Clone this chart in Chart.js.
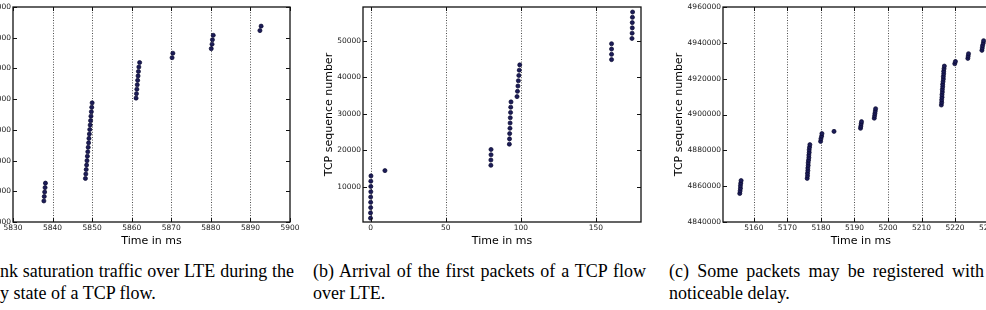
<!DOCTYPE html>
<html><head><meta charset="utf-8">
<script src="https://cdn.jsdelivr.net/npm/chart.js@4.4.0/dist/chart.umd.min.js"></script>
<style>
html,body{margin:0;padding:0;background:#fff;width:986px;height:310px;overflow:hidden}
body{position:relative}
.box{position:absolute;top:0}
.cap{position:absolute;font-family:"Liberation Serif","Times New Roman",serif;font-size:18px;line-height:22px;color:#000;white-space:nowrap}
.cap .j{text-align:justify;text-align-last:justify}
</style></head><body>
<div class="box" style="left:-60px;width:362px;height:250px"><canvas id="ca" width="362" height="250"></canvas></div>
<div class="box" style="left:300px;width:346px;height:250px"><canvas id="cb" width="346" height="250"></canvas></div>
<div class="box" style="left:640px;width:371px;height:250px"><canvas id="cc" width="371" height="250"></canvas></div>

<div class="cap" style="left:0px;top:260px;width:294px">
  <div class="j">nk saturation traffic over LTE during the</div>
  <div>y state of a TCP flow.</div>
</div>
<div class="cap" style="left:313px;top:260px;width:333px">
  <div class="j">(b) Arrival of the first packets of a TCP flow</div>
  <div>over LTE.</div>
</div>
<div class="cap" style="left:669px;top:260px;width:315px">
  <div class="j">(c) Some packets may be registered with</div>
  <div>noticeable delay.</div>
</div>

<script>
// ---------- data ----------
const xTitle = 'Time in ms';
const yTitle = 'TCP sequence number';

// (a) steady state
const aTime = [5837.8,5837.9,5838.0,5838.1,5838.2,
  5848.3,5848.4,5848.5,5848.6,5848.7,5848.8,5848.9,5849.0,5849.1,5849.2,5849.3,5849.4,5849.5,5849.6,5849.7,5849.8,5849.9,5850.0,
  5861.1,5861.2,5861.3,5861.4,5861.5,5861.6,5861.7,5861.8,5862.0,
  5870.2,5870.4,
  5880.1,5880.3,5880.4,5880.6,
  5892.4,5892.7];
const aSeq = [5506860,5508310,5509760,5511200,5512650,
  5514180,5515628,5517076,5518524,5519972,5521420,5522868,5524316,5525764,5527212,5528660,5530108,5531556,5533004,5534452,5535900,5537348,5538796,
  5540330,5541778,5543226,5544674,5546122,5547570,5549018,5550466,5551914,
  5553500,5554950,
  5556440,5557890,5559340,5560790,
  5562320,5563770];
const aXTicks = [5830,5840,5850,5860,5870,5880,5890,5900];
const aYTicks = [5500000,5510000,5520000,5530000,5540000,5550000,5560000,5570000];

// (b) first packets
const bTime = [0.0,0.0,0.1,0.1,0.1,0.2,0.2,0.2,0.3,
  9.6,
  80.1,80.1,80.2,80.2,
  92.4,92.5,92.6,92.8,92.9,93.0,93.2,93.3,93.5,
  97.5,97.8,98.1,98.4,98.7,99.0,99.3,
  160.4,160.4,160.4,160.4,
  174.0,174.1,174.2,174.2,174.3,174.4];
const bSeq = [1448,2896,4344,5792,7240,8688,10136,11584,13032,
  14480,
  15928,17376,18824,20272,
  21720,23168,24616,26064,27512,28960,30408,31856,33304,
  34752,36200,37648,39096,40544,41992,43440,
  44888,46336,47784,49232,
  50680,52128,53576,55024,56472,57920];
const bXTicks = [0,50,100,150];
const bYTicks = [10000,20000,30000,40000,50000];

// (c) delayed packets
const cTime = [5155.8,5155.9,5156.0,5156.0,5156.1,5156.2,
  5175.9,5176.0,5176.0,5176.1,5176.1,5176.2,5176.2,5176.3,5176.4,5176.4,5176.5,5176.5,5176.6,5176.7,
  5179.9,5180.0,5180.2,5180.3,
  5183.9,
  5191.8,5191.9,5192.0,5192.1,
  5195.9,5196.0,5196.1,5196.2,5196.3,
  5215.9,5216.0,5216.0,5216.1,5216.1,5216.2,5216.2,5216.3,5216.3,5216.4,5216.5,5216.5,5216.6,5216.6,5216.7,5216.8,
  5219.9,5220.1,
  5223.8,5223.9,5224.0,
  5228.0,5228.1,5228.2,5228.4,5228.5];
const cSeq = [4855900,4857348,4858796,4860244,4861692,4863140,
  4864340,4865788,4867236,4868684,4870132,4871580,4873028,4874476,4875924,4877372,4878820,4880268,4881716,4883164,
  4885000,4886448,4887896,4889344,
  4890570,
  4892300,4893500,4894800,4896000,
  4897940,4899260,4900590,4901910,4903240,
  4905300,4906748,4908196,4909644,4911092,4912540,4913988,4915436,4916884,4918332,4919780,4921228,4922676,4924124,4925572,4927020,
  4928350,4929600,
  4931320,4932600,4933940,
  4935800,4937150,4938500,4939850,4941200];
const cXTicks = [5160,5170,5180,5190,5200,5210,5220,5230];
const cYTicks = [4840000,4860000,4880000,4900000,4920000,4940000,4960000];

// ---------- drawing ----------
Chart.defaults.font.family = '"DejaVu Sans", sans-serif';

const framePlugin = {
  id: 'frame',
  beforeDatasetsDraw(chart) {
    const {ctx, chartArea: a, scales: {x}} = chart;
    ctx.save();
    ctx.strokeStyle = 'rgba(0,0,0,0.7)';
    ctx.lineWidth = 1;
    ctx.setLineDash([1, 1.6]);
    x.ticks.forEach(t => {
      const p = x.getPixelForValue(t.value);
      if (p <= a.left + 1.5 || p >= a.right - 1.5) return;
      const px = Math.round(p) + 0.5;
      ctx.beginPath(); ctx.moveTo(px, a.top); ctx.lineTo(px, a.bottom); ctx.stroke();
    });
    ctx.restore();
  },
  afterDatasetsDraw(chart) {
    const {ctx, chartArea: a, scales: {x, y}} = chart;
    ctx.save();
    ctx.strokeStyle = '#111';
    ctx.lineWidth = 1.3;
    ctx.setLineDash([]);
    ctx.strokeRect(a.left, a.top, a.right - a.left, a.bottom - a.top);
    ctx.lineWidth = 1;
    const T = 4;
    ctx.beginPath();
    x.ticks.forEach(t => {
      const px = Math.round(x.getPixelForValue(t.value)) + 0.5;
      ctx.moveTo(px, a.bottom); ctx.lineTo(px, a.bottom - T);
      ctx.moveTo(px, a.top); ctx.lineTo(px, a.top + T);
    });
    y.ticks.forEach(t => {
      const py = Math.round(y.getPixelForValue(t.value)) + 0.5;
      ctx.moveTo(a.left, py); ctx.lineTo(a.left + T, py);
      ctx.moveTo(a.right, py); ctx.lineTo(a.right - T, py);
    });
    ctx.stroke();
    ctx.restore();
  }
};

function makeChart(id, xs, ys, c) {
  const H = 250, padB = 2.4, top = 7, bottom = 222;
  const pts = xs.map((v, i) => ({x: v, y: ys[i]}));
  return new Chart(document.getElementById(id), {
    type: 'scatter',
    data: {datasets: [{data: pts, backgroundColor: '#1c1c58', borderColor: '#07072e',
      borderWidth: 0.7, pointRadius: 2.05, pointHoverRadius: 2.05, clip: false}]},
    options: {
      responsive: false, animation: false, events: [],
      plugins: {legend: {display: false}, tooltip: {enabled: false}},
      layout: {padding: {left: 0, top: top, right: c.padR, bottom: padB}},
      scales: {
        x: {
          type: 'linear', min: c.xmin, max: c.xmax,
          afterBuildTicks: s => { s.ticks = c.xticks.map(v => ({value: v})); },
          afterFit: s => { s.height = H - padB - bottom; },
          grid: {display: false, drawTicks: false}, border: {display: false},
          ticks: {autoSkip: false, maxRotation: 0, minRotation: 0, padding: 2, color: '#1a1a1a',
            font: {size: 7.5}, callback: v => String(v)},
          title: {display: true, text: xTitle, color: '#000', font: {size: 11}, padding: {top: 0, bottom: 0}}
        },
        y: {
          type: 'linear', min: c.ymin, max: c.ymax,
          afterBuildTicks: s => { s.ticks = c.yticks.map(v => ({value: v})); },
          afterFit: s => { s.width = c.left; },
          grid: {display: false, drawTicks: false}, border: {display: false},
          ticks: {autoSkip: false, padding: 2, color: '#1a1a1a', font: {size: 7.5}, callback: v => String(v)},
          title: {display: true, text: yTitle, color: '#000', font: {size: 11}, padding: {top: c.titlePad, bottom: 0}}
        }
      }
    },
    plugins: [framePlugin]
  });
}

makeChart('ca', aTime, aSeq, {xmin: 5830, xmax: 5900, ymin: 5500000, ymax: 5570000,
  xticks: aXTicks, yticks: aYTicks, left: 73, padR: 12, titlePad: 10});
makeChart('cb', bTime, bSeq, {xmin: -5, xmax: 180, ymin: 400, ymax: 59300,
  xticks: bXTicks, yticks: bYTicks, left: 63, padR: 5, titlePad: 22.4});
makeChart('cc', cTime, cSeq, {xmin: 5150.8, xmax: 5233, ymin: 4840000, ymax: 4960000,
  xticks: cXTicks, yticks: cYTicks, left: 83, padR: 12.3, titlePad: 32.4});
</script>
</body></html>
